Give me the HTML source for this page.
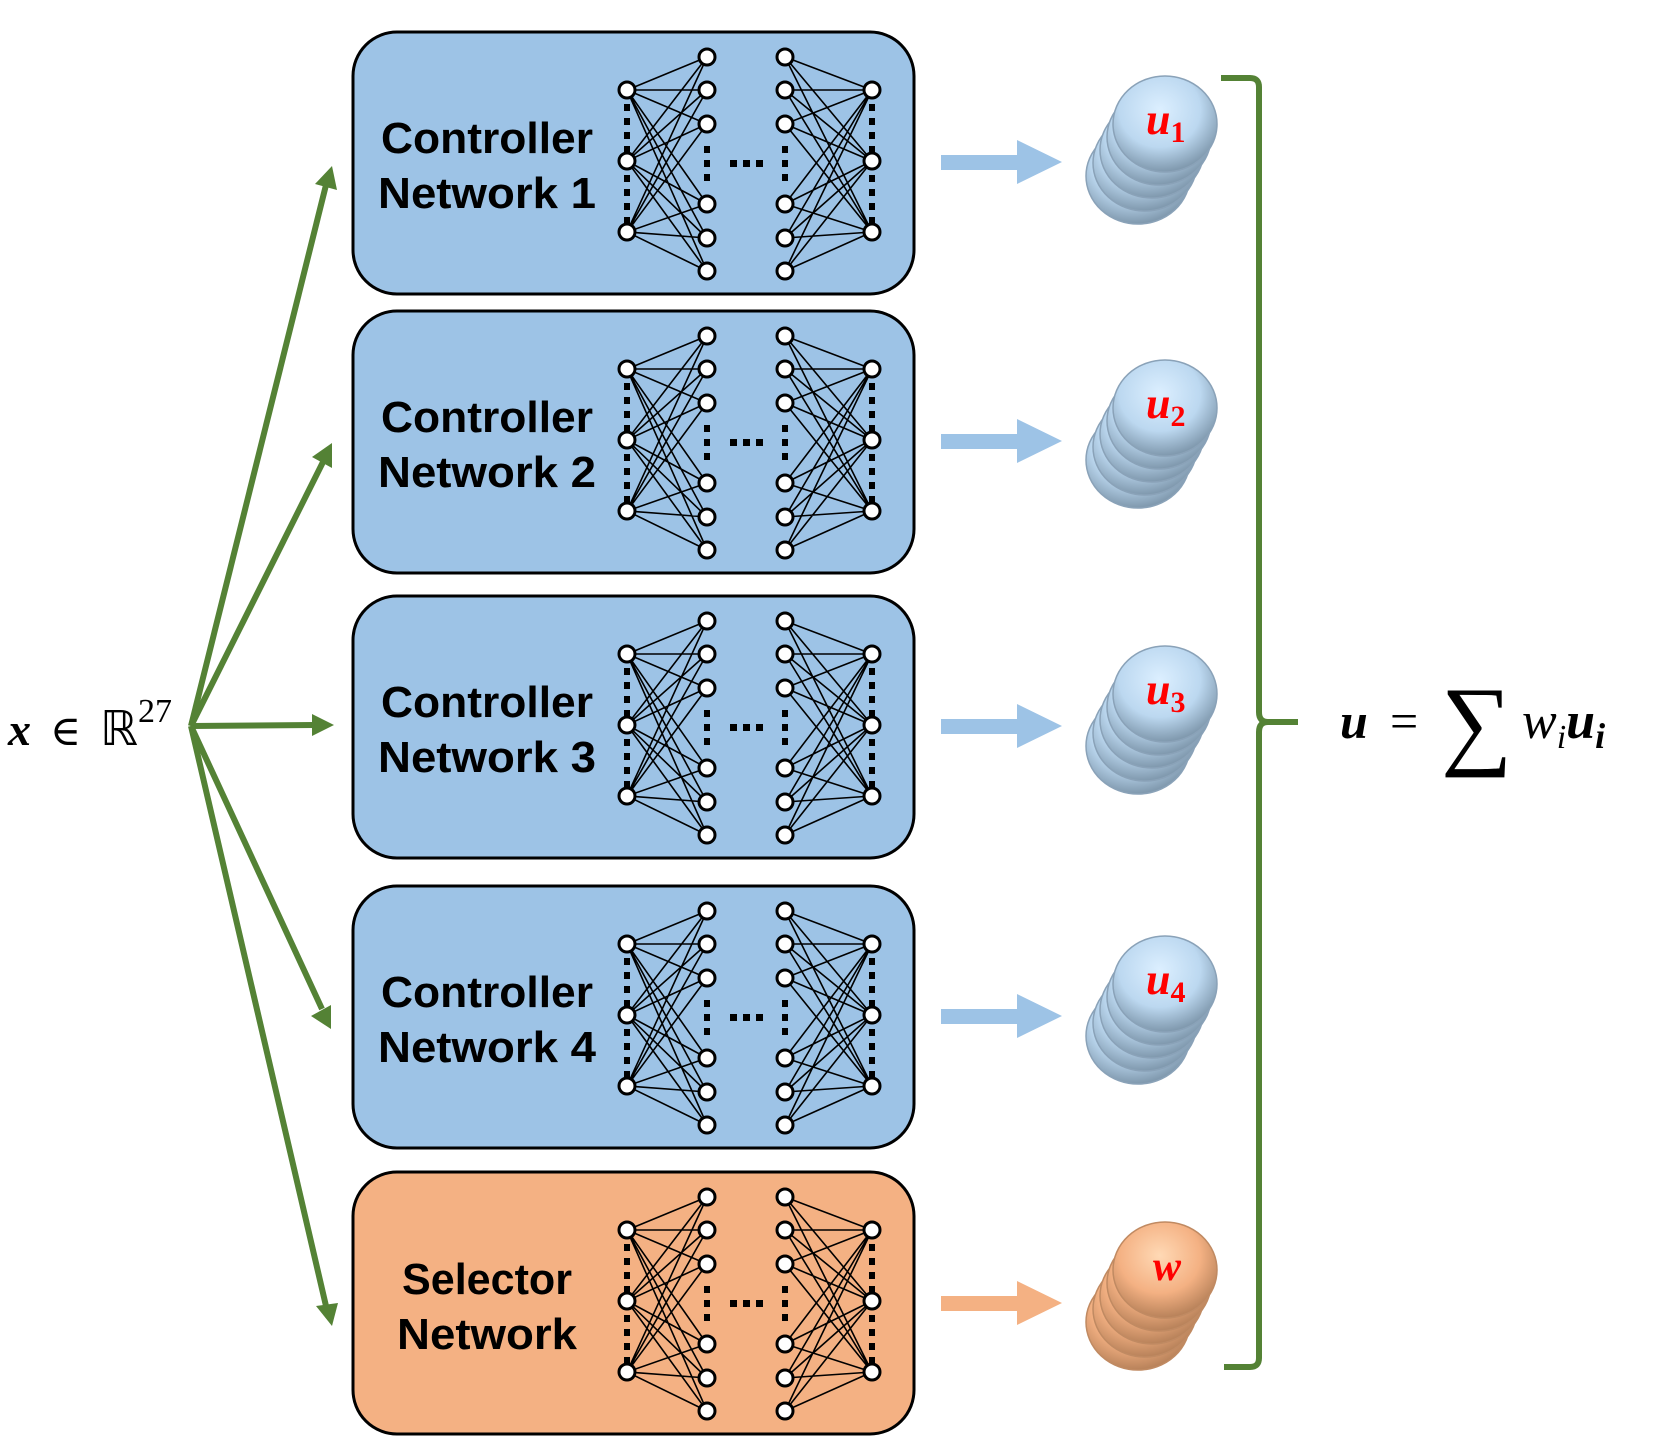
<!DOCTYPE html>
<html><head><meta charset="utf-8"><style>
html,body{margin:0;padding:0;background:#fff;}
svg{display:block;}
</style></head><body>
<svg width="1661" height="1453" viewBox="0 0 1661 1453" xmlns="http://www.w3.org/2000/svg">
<defs>
<radialGradient id="gb" cx="0.45" cy="0.35" r="0.65">
<stop offset="0" stop-color="#dcefff"/><stop offset="0.6" stop-color="#bcd8f0"/><stop offset="1" stop-color="#7f98ad"/></radialGradient>
<radialGradient id="go" cx="0.45" cy="0.35" r="0.65">
<stop offset="0" stop-color="#ffd9b5"/><stop offset="0.6" stop-color="#f4b183"/><stop offset="1" stop-color="#b8825a"/></radialGradient>
<g id="net">
<g stroke="#000" stroke-width="1.6">
<path d="M627 58L707 25M627 58L707 58M627 58L707 92M627 58L707 172M627 58L707 206M627 58L707 239
M627 129L707 25M627 129L707 58M627 129L707 92M627 129L707 172M627 129L707 206M627 129L707 239
M627 200L707 25M627 200L707 58M627 200L707 92M627 200L707 172M627 200L707 206M627 200L707 239
M872 58L785 25M872 58L785 58M872 58L785 92M872 58L785 172M872 58L785 206M872 58L785 239
M872 129L785 25M872 129L785 58M872 129L785 92M872 129L785 172M872 129L785 206M872 129L785 239
M872 200L785 25M872 200L785 58M872 200L785 92M872 200L785 172M872 200L785 206M872 200L785 239"/>
</g>
<g fill="#000">
<rect x="624" y="72" width="6" height="7"/><rect x="624" y="86" width="6" height="7"/><rect x="624" y="100" width="6" height="7"/><rect x="624" y="114" width="6" height="7"/>
<rect x="624" y="143" width="6" height="7"/><rect x="624" y="157" width="6" height="7"/><rect x="624" y="171" width="6" height="7"/><rect x="624" y="185" width="6" height="7"/>
<rect x="869" y="72" width="6" height="7"/><rect x="869" y="86" width="6" height="7"/><rect x="869" y="100" width="6" height="7"/><rect x="869" y="114" width="6" height="7"/>
<rect x="869" y="143" width="6" height="7"/><rect x="869" y="157" width="6" height="7"/><rect x="869" y="171" width="6" height="7"/><rect x="869" y="185" width="6" height="7"/>
<rect x="704" y="114" width="6" height="7"/><rect x="704" y="128" width="6" height="7"/><rect x="704" y="142" width="6" height="7"/>
<rect x="782" y="114" width="6" height="7"/><rect x="782" y="128" width="6" height="7"/><rect x="782" y="142" width="6" height="7"/>
<rect x="730" y="128" width="7" height="7"/><rect x="743" y="128" width="7" height="7"/><rect x="756" y="128" width="7" height="7"/>
</g>
<g fill="#fff" stroke="#000" stroke-width="3">
<circle cx="627" cy="58" r="8"/><circle cx="627" cy="129" r="8"/><circle cx="627" cy="200" r="8"/>
<circle cx="872" cy="58" r="8"/><circle cx="872" cy="129" r="8"/><circle cx="872" cy="200" r="8"/>
<circle cx="707" cy="25" r="8"/><circle cx="707" cy="58" r="8"/><circle cx="707" cy="92" r="8"/><circle cx="707" cy="172" r="8"/><circle cx="707" cy="206" r="8"/><circle cx="707" cy="239" r="8"/>
<circle cx="785" cy="25" r="8"/><circle cx="785" cy="58" r="8"/><circle cx="785" cy="92" r="8"/><circle cx="785" cy="172" r="8"/><circle cx="785" cy="206" r="8"/><circle cx="785" cy="239" r="8"/>
</g>
</g>
<g id="cb" stroke="#8aa2b8" stroke-width="1.5">
<ellipse cx="-27" cy="52" rx="52" ry="48" fill="url(#gb)"/>
<ellipse cx="-20" cy="39" rx="52" ry="48" fill="url(#gb)"/>
<ellipse cx="-13" cy="26" rx="52" ry="48" fill="url(#gb)"/>
<ellipse cx="-6" cy="13" rx="52" ry="48" fill="url(#gb)"/>
<ellipse cx="0" cy="0" rx="52" ry="48" fill="url(#gb)"/>
</g>
<g id="co" stroke="#c08a62" stroke-width="1.5">
<ellipse cx="-27" cy="52" rx="52" ry="48" fill="url(#go)"/>
<ellipse cx="-20" cy="39" rx="52" ry="48" fill="url(#go)"/>
<ellipse cx="-13" cy="26" rx="52" ry="48" fill="url(#go)"/>
<ellipse cx="-6" cy="13" rx="52" ry="48" fill="url(#go)"/>
<ellipse cx="0" cy="0" rx="52" ry="48" fill="url(#go)"/>
</g>
</defs>

<g stroke="#000" stroke-width="3">
<rect x="353" y="32" width="561" height="262" rx="44" fill="#9dc3e6"/>
<rect x="353" y="311" width="561" height="262" rx="44" fill="#9dc3e6"/>
<rect x="353" y="596" width="561" height="262" rx="44" fill="#9dc3e6"/>
<rect x="353" y="886" width="561" height="262" rx="44" fill="#9dc3e6"/>
<rect x="353" y="1172" width="561" height="262" rx="44" fill="#f4b183"/>
</g>
<use href="#net" transform="translate(0,32)"/>
<use href="#net" transform="translate(0,311)"/>
<use href="#net" transform="translate(0,596)"/>
<use href="#net" transform="translate(0,886)"/>
<use href="#net" transform="translate(0,1172)"/>

<g font-family="Liberation Sans, sans-serif" font-weight="bold" font-size="44" text-anchor="middle" fill="#000">
<text x="487" y="153" textLength="212" lengthAdjust="spacingAndGlyphs">Controller</text><text x="487" y="208" textLength="218" lengthAdjust="spacingAndGlyphs">Network 1</text>
<text x="487" y="432" textLength="212" lengthAdjust="spacingAndGlyphs">Controller</text><text x="487" y="487" textLength="218" lengthAdjust="spacingAndGlyphs">Network 2</text>
<text x="487" y="717" textLength="212" lengthAdjust="spacingAndGlyphs">Controller</text><text x="487" y="772" textLength="218" lengthAdjust="spacingAndGlyphs">Network 3</text>
<text x="487" y="1007" textLength="212" lengthAdjust="spacingAndGlyphs">Controller</text><text x="487" y="1062" textLength="218" lengthAdjust="spacingAndGlyphs">Network 4</text>
<text x="487" y="1294" textLength="170" lengthAdjust="spacingAndGlyphs">Selector</text><text x="487" y="1349" textLength="180" lengthAdjust="spacingAndGlyphs">Network</text>
</g>

<g stroke="#548235" stroke-width="6" fill="none">
<line x1="191" y1="726" x2="326" y2="185"/>
<line x1="191" y1="726" x2="323" y2="462"/>
<line x1="191" y1="726" x2="314" y2="725"/>
<line x1="191" y1="726" x2="322" y2="1009"/>
<line x1="191" y1="726" x2="326" y2="1306"/>
</g>
<g fill="#548235">
<polygon points="332,166 337,190 315,184"/>
<polygon points="332,443 332,468 312,457"/>
<polygon points="334,725 312,736 312,714"/>
<polygon points="331,1029 311,1016 331,1005"/>
<polygon points="332,1326 316,1306 338,1303"/>
</g>

<g fill="#9dc3e6">
<polygon points="941,155 1017,155 1017,140 1062,162 1017,184 1017,170 941,170"/>
<polygon points="941,434 1017,434 1017,419 1062,441 1017,463 1017,449 941,449"/>
<polygon points="941,719 1017,719 1017,704 1062,726 1017,748 1017,734 941,734"/>
<polygon points="941,1009 1017,1009 1017,994 1062,1016 1017,1038 1017,1024 941,1024"/>
</g>
<polygon fill="#f4b183" points="941,1296 1017,1296 1017,1281 1062,1303 1017,1325 1017,1311 941,1311"/>

<use href="#cb" transform="translate(1165,124)"/>
<use href="#cb" transform="translate(1165,408)"/>
<use href="#cb" transform="translate(1165,694)"/>
<use href="#cb" transform="translate(1165,984)"/>
<use href="#co" transform="translate(1165,1270)"/>
<g font-family="Liberation Serif, serif" font-weight="bold" font-style="italic" fill="#f00">
<text x="1146" y="134" font-size="44">u<tspan font-size="30" font-style="normal" dy="8">1</tspan></text>
<text x="1146" y="418" font-size="44">u<tspan font-size="30" font-style="normal" dy="8">2</tspan></text>
<text x="1146" y="704" font-size="44">u<tspan font-size="30" font-style="normal" dy="8">3</tspan></text>
<text x="1146" y="994" font-size="44">u<tspan font-size="30" font-style="normal" dy="8">4</tspan></text>
<text x="1153" y="1280" font-size="42">w</text>
</g>

<path d="M1221 78 L1250 78 Q1259 78 1259 87 L1259 712 Q1259 722 1268 722 L1298 722 L1268 722 Q1259 722 1259 732 L1259 1358 Q1259 1367 1250 1367 L1224 1367" stroke="#548235" stroke-width="6" fill="none"/>

<g font-family="Liberation Serif, serif" fill="#000">
<text x="1340" y="738" font-size="50" font-weight="bold" font-style="italic">u</text>
<text x="1390" y="738" font-size="50">=</text>
<text x="1441" y="756" font-size="100">∑</text>
<text x="1522" y="738" font-size="52" font-style="italic">w<tspan font-size="34" dy="10">i</tspan><tspan font-size="52" font-weight="bold" dy="-10">u</tspan><tspan font-size="36" font-weight="bold" dy="10">i</tspan></text>
</g>
<g font-family="Liberation Serif, DejaVu Serif, serif" fill="#000">
<text x="8" y="745" font-size="46" font-weight="bold" font-style="italic">x</text>
<text x="50" y="745" font-size="42">∈</text>
<text x="100" y="745" font-size="48" font-family="DejaVu Sans, sans-serif">ℝ</text>
<text x="138" y="722" font-size="34">27</text>
</g>
</svg>
</body></html>
